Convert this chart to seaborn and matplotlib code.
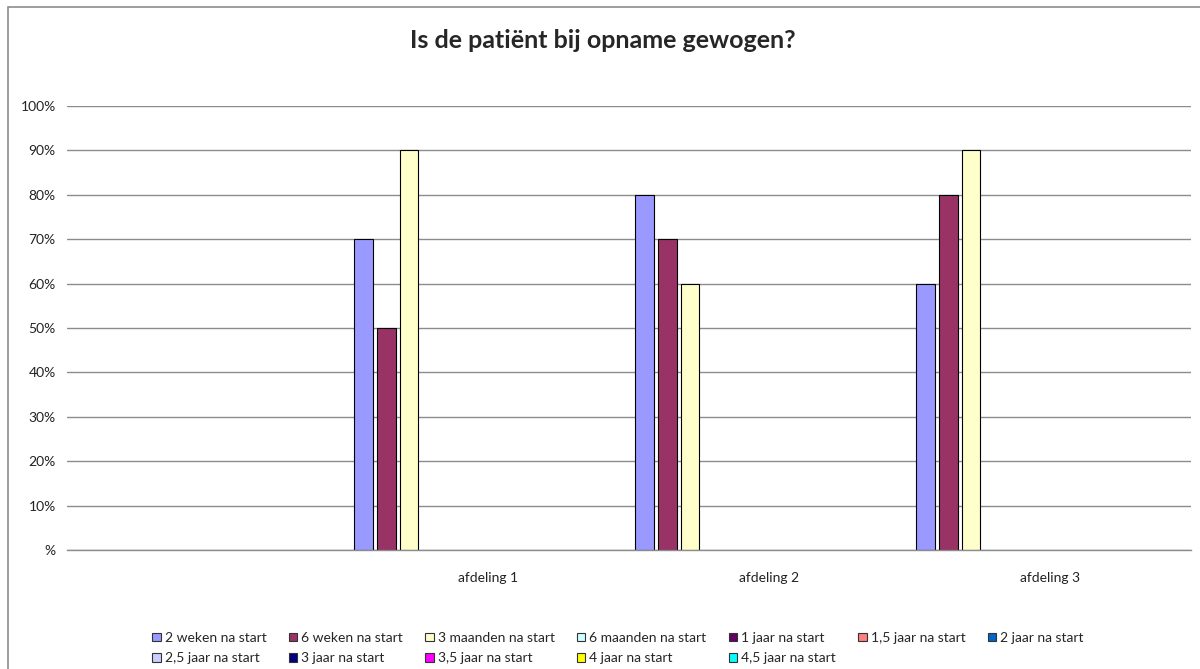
import numpy as np
import pandas as pd
import matplotlib
matplotlib.use("Agg")
import matplotlib.pyplot as plt
from matplotlib.patches import Patch, Rectangle
import seaborn as sns

# chart data (percent), missing series are None
categories = ["", "afdeling 1", "afdeling 2", "afdeling 3"]
series = [
    "2 weken na start", "6 weken na start", "3 maanden na start", "6 maanden na start",
    "1 jaar na start", "1,5 jaar na start", "2 jaar na start", "2,5 jaar na start",
    "3 jaar na start", "3,5 jaar na start", "4 jaar na start", "4,5 jaar na start",
]
values_2w = [None, 70, 80, 60]
values_6w = [None, 50, 70, 80]
values_3m = [None, 90, 60, 90]
colors = [
    "#9999FF", "#993366", "#FFFFCC", "#CCFFFF", "#660066", "#FF8080",
    "#0066CC", "#CCCCFF", "#000080", "#FF00FF", "#FFFF00", "#00FFFF",
]
y_ticks = [0, 10, 20, 30, 40, 50, 60, 70, 80, 90, 100]

rows = []
for name, vals in zip(series[:3], [values_2w, values_6w, values_3m]):
    for cat, v in zip(categories, vals):
        if v is not None:
            rows.append({"afdeling": cat, "moment": name, "pct": v})
df = pd.DataFrame(rows)

sns.set_style("white")
plt.rcParams["font.family"] = ["Lato", "DejaVu Sans"]

fig = plt.figure(figsize=(12, 6.69), dpi=100)
ax = fig.add_axes([0.0558, 0.1779, 0.9367, 0.6637])

sns.barplot(data=df, x="afdeling", y="pct", hue="moment", order=categories,
            hue_order=series, palette=dict(zip(series, colors)), saturation=1,
            width=0.97, gap=0.18, edgecolor="black", linewidth=0.8,
            legend=False, ax=ax)

ax.set_ylim(0, 100)
ax.set_xlim(-0.5, len(categories) - 0.5)
ax.set_yticks(y_ticks)
ax.set_yticklabels([f"{t}%" if t else "%" for t in y_ticks])
ax.yaxis.grid(True, color="#8c8c8c", linewidth=1)
ax.set_axisbelow(True)
for side in ["left", "right", "top"]:
    ax.spines[side].set_visible(False)
ax.spines["bottom"].set_color("#8c8c8c")
ax.spines["bottom"].set_linewidth(1)
ax.tick_params(axis="both", length=0, labelsize=10, colors="#222222")
ax.tick_params(axis="x", pad=16)
ax.tick_params(axis="y", pad=8)
ax.set_xlabel("")
ax.set_ylabel("")

fig.text(0.5025, 1 - 40 / 669, "Is de patiënt bij opname gewogen?",
         ha="center", va="center", fontsize=18, fontweight="bold")

# legend in Excel row order (7 per row)
handles = [Patch(facecolor=c, edgecolor="#333333", linewidth=0.8) for c in colors]
order = [0, 7, 1, 8, 2, 9, 3, 10, 4, 11, 5, 6]
fig.legend([handles[i] for i in order], [series[i] for i in order], ncol=7,
           loc="center", bbox_to_anchor=(0.515, 1 - 648 / 669), frameon=False,
           fontsize=10, handlelength=0.6, handleheight=0.6, handletextpad=0.3,
           columnspacing=1.6, labelspacing=0.6)

# chart border
fig.patches.append(Rectangle((8 / 1200, -0.1), 1.2, 1.1 - 7 / 669,
                             transform=fig.transFigure, fill=False,
                             edgecolor="#8c8c8c", linewidth=1.2))

fig.savefig("out.png", dpi=100)
